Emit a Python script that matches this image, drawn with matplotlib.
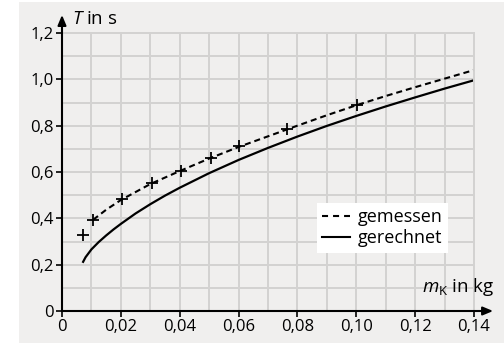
import matplotlib
matplotlib.use("Agg")
import matplotlib.pyplot as plt
from matplotlib.patches import Rectangle
from matplotlib.lines import Line2D
import numpy as np

plt.rcParams['font.family'] = ['Open Sans', 'DejaVu Sans']
plt.rcParams['mathtext.fontset'] = 'custom'
plt.rcParams['mathtext.it'] = 'Open Sans:italic'
plt.rcParams['mathtext.rm'] = 'Open Sans'

# measured points (gemessen)
m_meas = [0.007, 0.0106, 0.0203, 0.0305, 0.0404, 0.0505, 0.0602, 0.0766, 0.1003]
T_meas = [0.328, 0.394, 0.484, 0.553, 0.604, 0.662, 0.711, 0.784, 0.891]

# dashed fit line through measurements
m_dash = [0.0106, 0.015, 0.02, 0.03, 0.04, 0.05, 0.06, 0.07, 0.08, 0.09, 0.10, 0.11, 0.12, 0.13, 0.14]
T_dash = [0.394, 0.437, 0.479, 0.548, 0.604, 0.658, 0.708, 0.754, 0.800, 0.845, 0.888, 0.928, 0.966, 1.003, 1.040]

# calculated curve (gerechnet)
m_calc = [0.007, 0.008, 0.01, 0.0125, 0.015, 0.0175, 0.02, 0.025, 0.03, 0.035, 0.04, 0.05, 0.06, 0.07,
          0.08, 0.09, 0.10, 0.11, 0.12, 0.13, 0.14]
T_calc = [0.208, 0.232, 0.266, 0.298, 0.326, 0.352, 0.376, 0.421, 0.461, 0.498, 0.532, 0.595, 0.652,
          0.704, 0.753, 0.799, 0.842, 0.883, 0.922, 0.960, 0.996]

x_ticks = [0, 0.02, 0.04, 0.06, 0.08, 0.10, 0.12, 0.14]
x_labels = ["0", "0,02", "0,04", "0,06", "0,08", "0,10", "0,12", "0,14"]
y_ticks = [0, 0.2, 0.4, 0.6, 0.8, 1.0, 1.2]
y_labels = ["0", "0,2", "0,4", "0,6", "0,8", "1,0", "1,2"]

W, H = 504, 345
fig = plt.figure(figsize=(W / 100, H / 100), dpi=100)
fig.patch.set_facecolor('white')
bg = fig.add_axes([19 / W, 2 / H, (W - 19) / W, 341 / H], zorder=-5)
bg.set_axis_off()
bg.add_patch(Rectangle((0, 0), 1, 1, transform=bg.transAxes, facecolor='#f0efee', edgecolor='none'))

x0, x1 = 62, 474
y0, y1 = 311, 33
ax = fig.add_axes([x0 / W, 1 - y0 / H, (x1 - x0) / W, (y0 - y1) / H], zorder=1)
ax.set_facecolor('#f0efee')
ax.set_xlim(0, 0.14)
ax.set_ylim(0, 1.2)

gridc = '#d3d2d1'
ax.set_xticks(np.arange(0, 0.1401, 0.01), minor=True)
ax.set_yticks(np.arange(0, 1.201, 0.1), minor=True)
ax.grid(which='both', color=gridc, lw=1.4)
ax.set_axisbelow(True)

ax.set_xticks(x_ticks)
ax.set_xticklabels(x_labels)
ax.set_yticks(y_ticks)
ax.set_yticklabels(y_labels)
ax.tick_params(which='major', direction='out', length=4, width=1.2, color='black', labelsize=12, pad=2)
ax.tick_params(which='minor', length=0)
for lab in ax.get_xticklabels() + ax.get_yticklabels():
    lab.set_fontweight('medium')

for s in ['top', 'right']:
    ax.spines[s].set_color(gridc)
    ax.spines[s].set_linewidth(1.4)
for s in ['left', 'bottom']:
    ax.spines[s].set_visible(False)

# axis arrows
ax.annotate('', xy=(0, 1.278), xytext=(0, 0), xycoords='data', annotation_clip=False,
            arrowprops=dict(arrowstyle='-|>,head_length=0.6,head_width=0.25', color='black', lw=1.5,
                            shrinkA=0, shrinkB=0))
ax.annotate('', xy=(0.1465, 0), xytext=(0, 0), xycoords='data', annotation_clip=False,
            arrowprops=dict(arrowstyle='-|>,head_length=0.6,head_width=0.25', color='black', lw=1.5,
                            shrinkA=0, shrinkB=0))

ax.plot(m_calc, T_calc, color='black', lw=1.6, solid_capstyle='butt', clip_on=False)
ax.plot(m_dash, T_dash, color='black', lw=1.5, dashes=(2.9, 1.9), clip_on=False)
ax.plot(m_meas, T_meas, ls='none', marker='+', ms=9, mew=1.3, color='black', clip_on=False)

ax.text(0.0035, 1.262, r'$T$ in s', fontsize=13.5, ha='left', va='center')
ax.text(0.1468, 0.055, r'$m_{\mathrm{K}}$ in kg', fontsize=13.5, ha='right', va='bottom')

h1 = Line2D([], [], color='black', lw=1.5, dashes=(2.9, 2.4))
h2 = Line2D([], [], color='black', lw=1.5)
leg = ax.legend([h1, h2], ['gemessen', 'gerechnet'], loc='upper left',
                bbox_to_anchor=((317 - x0) / (x1 - x0), (y0 - 203) / (y0 - y1)),
                fontsize=13, frameon=True, fancybox=False, framealpha=1, edgecolor='white',
                handlelength=1.55, handletextpad=0.4, borderpad=0.3, labelspacing=0.15,
                borderaxespad=0)
leg.get_frame().set_linewidth(0)

fig.savefig('out.png', dpi=100, facecolor='white')
